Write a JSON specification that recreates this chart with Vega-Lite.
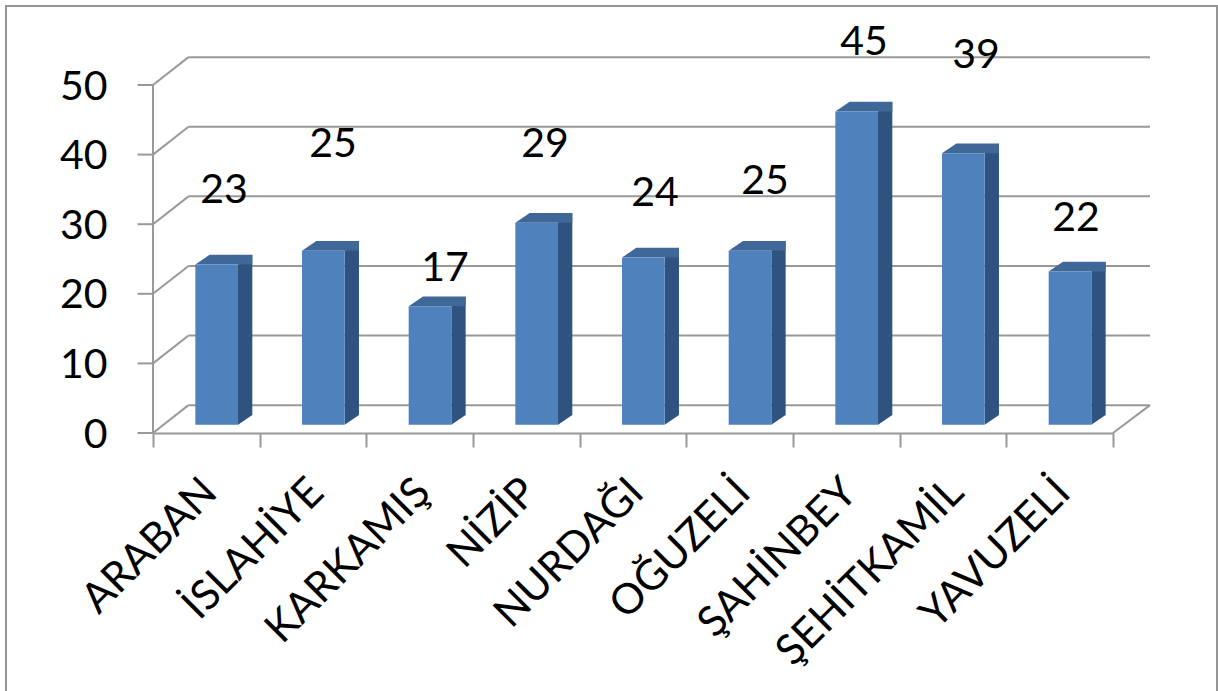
{
"$schema":"https://vega.github.io/schema/vega-lite/v6.json",
"autosize":"none","width":960,"height":348,
"padding":{"left":153,"top":85,"right":105,"bottom":258},
"background":"white",
"datasets":{
"d":[{"ilce":"ARABAN","deger":23},{"ilce":"İSLAHİYE","deger":25},{"ilce":"KARKAMIŞ","deger":17},{"ilce":"NİZİP","deger":29},{"ilce":"NURDAĞI","deger":24},{"ilce":"OĞUZELİ","deger":25},{"ilce":"ŞAHİNBEY","deger":45},{"ilce":"ŞEHİTKAMİL","deger":39},{"ilce":"YAVUZELİ","deger":22}],
"g":[{"v":0},{"v":10},{"v":20},{"v":30},{"v":40},{"v":50}]
},
"config":{"view":{"stroke":null}},
"resolve":{"scale":{"x":"independent"},"axis":{"x":"independent"}},
"layer":[
{"data":{"name":"g"},"transform":[{"calculate":"0.333","as":"x1"},{"calculate":"9.347","as":"x2"},{"calculate":"datum.v+4","as":"yb"}],
 "mark":{"type":"rule","stroke":"#999999","strokeWidth":2},
 "encoding":{"x":{"field":"x1","type":"quantitative","scale":{"domain":[0,9],"nice":false,"zero":false},"axis":null},"x2":{"field":"x2"},"y":{"field":"yb","type":"quantitative","scale":{"domain":[0,50],"nice":false},"axis":{"title":null,"values":[0,10,20,30,40,50],"grid":false,"domain":false,"ticks":false,"labelFont":"Lato","labelFontSize":41,"labelColor":"#000","labelPadding":46,"labelOffset":2}}}},
{"data":{"name":"g"},"transform":[{"calculate":"0","as":"x1"},{"calculate":"0.333","as":"x2"},{"calculate":"datum.v+4","as":"yb"}],
 "mark":{"type":"rule","stroke":"#999999","strokeWidth":2},
 "encoding":{"x":{"field":"x1","type":"quantitative","scale":{"domain":[0,9],"nice":false,"zero":false},"axis":null},"x2":{"field":"x2"},"y":{"field":"v","type":"quantitative"},"y2":{"field":"yb"}}},
{"data":{"values":[{"a":9,"b":9.347,"y":0,"y2":4}]},
 "mark":{"type":"rule","stroke":"#999999","strokeWidth":2},
 "encoding":{"x":{"field":"a","type":"quantitative","scale":{"domain":[0,9],"nice":false,"zero":false},"axis":null},"x2":{"field":"b"},"y":{"field":"y","type":"quantitative"},"y2":{"field":"y2"}}},
{"data":{"name":"g"},"transform":[{"calculate":"-0.145","as":"x1"},{"calculate":"0","as":"x2"}],
 "mark":{"type":"rule","stroke":"#999999","strokeWidth":2},
 "encoding":{"x":{"field":"x1","type":"quantitative","scale":{"domain":[0,9],"nice":false,"zero":false},"axis":null},"x2":{"field":"x2"},"y":{"field":"v","type":"quantitative"}}},
{"data":{"values":[{"x":0,"y":0,"y2":50}]},
 "mark":{"type":"rule","stroke":"#999999","strokeWidth":2},
 "encoding":{"x":{"field":"x","type":"quantitative","scale":{"domain":[0,9],"nice":false,"zero":false},"axis":null},"y":{"field":"y","type":"quantitative"},"y2":{"field":"y2"}}},
{"data":{"name":"d"},"mark":{"type":"bar","opacity":0},
 "encoding":{"x":{"field":"ilce","type":"nominal","sort":null,"scale":{"paddingInner":0,"paddingOuter":0},"axis":{"title":null,"labelAngle":-45,"labelAlign":"right","labelBaseline":"top","labelFont":"Lato","labelFontSize":42,"labelColor":"#000","tickBand":"extent","tickSize":14,"tickColor":"#999999","tickWidth":2,"domainColor":"#999999","domainWidth":2,"labelPadding":24,"labelOffset":-11,"labelLimit":400,"grid":false}},"y":{"field":"deger","type":"quantitative"}}},
{"data":{"name":"d"},"transform":[{"window":[{"op":"row_number","as":"n"}]},{"calculate":"datum.n-1+0.797","as":"R"},
 {"calculate":"[datum.R,datum.R+0.134]","as":"xs"},{"flatten":["xs"],"as":["xx"]},{"calculate":"datum.deger+1.2+(datum.xx>datum.R?1.4:0)","as":"top"},{"calculate":"1.2+(datum.xx>datum.R?1.4:0)","as":"bot"}],
 "mark":{"type":"area","color":"#2f5380"},
 "encoding":{"x":{"field":"xx","type":"quantitative","scale":{"domain":[0,9],"nice":false,"zero":false},"axis":null},"y":{"field":"top","type":"quantitative"},"y2":{"field":"bot"},"detail":{"field":"ilce"}}},
{"data":{"name":"d"},"transform":[{"window":[{"op":"row_number","as":"n"}]},{"calculate":"datum.n-1+0.397","as":"L"},{"calculate":"datum.n-1+0.797","as":"R"},
 {"calculate":"[datum.L,datum.L+0.134,datum.R,datum.R+0.134]","as":"xs"},{"flatten":["xs"],"as":["xx"]},
 {"calculate":"datum.deger+1.2","as":"t0"},{"calculate":"datum.t0+(datum.xx>datum.L+0.01?1.4:0)","as":"top"},{"calculate":"datum.t0+(datum.xx>datum.R+0.01?1.4:0)","as":"bot"}],
 "mark":{"type":"area","color":"#3f6797"},
 "encoding":{"x":{"field":"xx","type":"quantitative","scale":{"domain":[0,9],"nice":false,"zero":false},"axis":null},"y":{"field":"top","type":"quantitative"},"y2":{"field":"t0"},"detail":{"field":"ilce"}}},
{"data":{"name":"d"},"transform":[{"window":[{"op":"row_number","as":"n"}]},{"calculate":"datum.n-1+0.397","as":"L"},{"calculate":"datum.n-1+0.797","as":"R"},{"calculate":"datum.deger+1.2","as":"top"},{"calculate":"1.2","as":"bot"}],
 "mark":{"type":"rect","color":"#4f81bd"},
 "encoding":{"x":{"field":"L","type":"quantitative","scale":{"domain":[0,9],"nice":false,"zero":false},"axis":null},"x2":{"field":"R"},"y":{"field":"top","type":"quantitative"},"y2":{"field":"bot"}}},
{"data":{"values":[{"kenar":"cerceve"}]},
 "transform":[{"calculate":"-1.378","as":"xa"},{"calculate":"9.975","as":"xb"},{"calculate":"-60","as":"yb"},{"calculate":"61.35","as":"yt"}],
 "mark":{"type":"rect","fill":null,"stroke":"#959595","strokeWidth":2,"clip":false},
 "encoding":{"x":{"field":"xa","type":"quantitative","scale":{"domain":[0,9],"nice":false,"zero":false},"axis":null},"x2":{"field":"xb"},"y":{"field":"yb","type":"quantitative"},"y2":{"field":"yt"}}},
{"data":{"name":"d"},
 "transform":[
  {"calculate":"{'ARABAN':0.666,'İSLAHİYE':1.687,'KARKAMIŞ':2.737,'NİZİP':3.675,'NURDAĞI':4.706,'OĞUZELİ':5.737,'ŞAHİNBEY':6.665,'ŞEHİTKAMİL':7.715,'YAVUZELİ':8.653}[datum.ilce]","as":"etiketX"},
  {"calculate":"{'ARABAN':34.8,'İSLAHİYE':41.4,'KARKAMIŞ':23.6,'NİZİP':41.4,'NURDAĞI':34.4,'OĞUZELİ':36.1,'ŞAHİNBEY':56,'ŞEHİTKAMİL':54.2,'YAVUZELİ':30.8}[datum.ilce]","as":"etiketY"}],
 "mark":{"type":"text","font":"Lato","fontSize":41,"color":"#000"},
 "encoding":{"x":{"field":"etiketX","type":"quantitative","scale":{"domain":[0,9],"nice":false,"zero":false},"axis":null},"y":{"field":"etiketY","type":"quantitative"},"text":{"field":"deger","type":"quantitative"}}}
]
}
